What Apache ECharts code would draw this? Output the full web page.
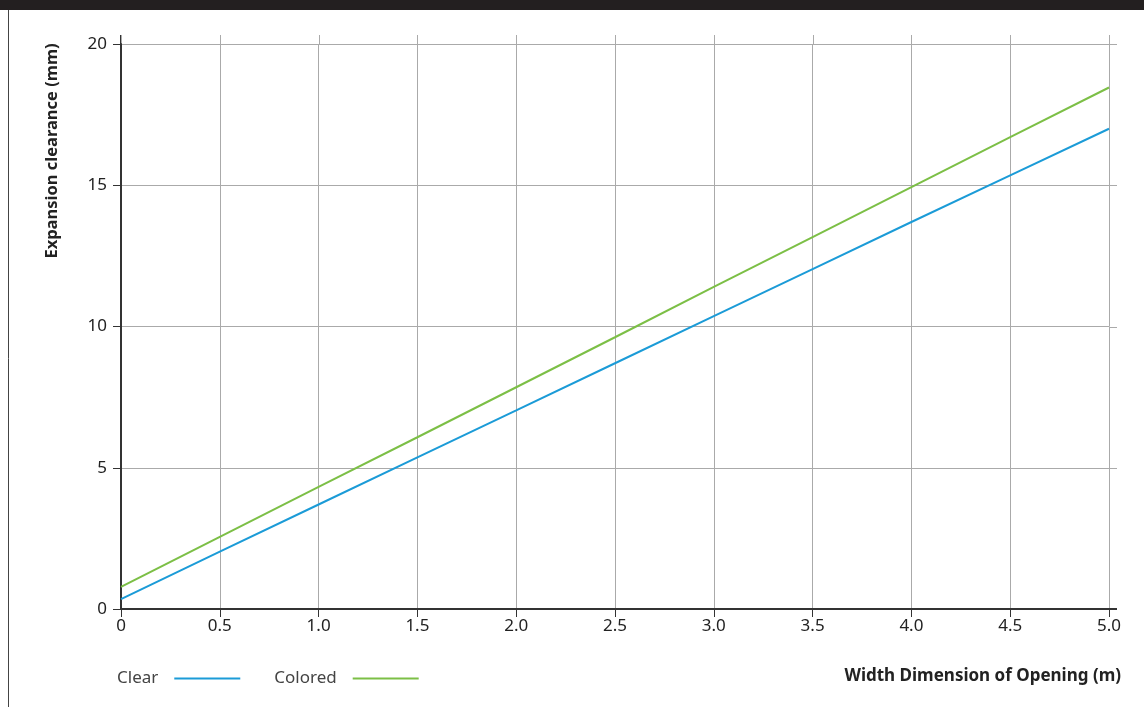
<!DOCTYPE html>
<html><head><meta charset="utf-8">
<script src="https://cdn.jsdelivr.net/npm/echarts@6/dist/echarts.min.js"></script>
<style>html,body{margin:0;padding:0;background:#fff}#c{width:1144px;height:707px}</style>
</head><body><div id="c"></div>
<script>
const xValues = [0, 0.5, 1.0, 1.5, 2.0, 2.5, 3.0, 3.5, 4.0, 4.5, 5.0];
const clearValues = [0.35, 2.03, 3.7, 5.37, 7.03, 8.7, 10.37, 12.03, 13.7, 15.35, 17.0];
const coloredValues = [0.78, 2.55, 4.32, 6.08, 7.85, 9.62, 11.4, 13.16, 14.93, 16.7, 18.46];
const seriesNames = ['Clear', 'Colored'];
const xTitle = 'Width Dimension of Opening (m)';
const yTitle = 'Expansion clearance (mm)';

const FONT = 'Noto Sans';
const chart = echarts.init(document.getElementById('c'), null, {renderer: 'canvas'});
const pairs = v => xValues.map((x, i) => [x, v[i]]);
chart.setOption({
  animation: false,
  textStyle: {fontFamily: FONT},
  grid: {left: 121, right: 35, top: 44, bottom: 98},
  legend: {
    left: 112, top: 665, align: 'right', itemWidth: 66, itemHeight: 2, itemGap: 34,
    icon: 'rect',
    textStyle: {fontFamily: FONT, fontSize: 17, color: '#444', padding: [0, 11, 0, 0]},
    data: seriesNames
  },
  xAxis: {
    type: 'value', min: 0, max: 5, interval: 0.5,
    axisLine: {lineStyle: {color: '#333', width: 2}},
    axisTick: {show: true, length: 8, lineStyle: {color: '#333', width: 1}},
    axisLabel: {color: '#222', fontSize: 17, margin: 9,
      formatter: v => v === 0 ? '0' : v.toFixed(1)},
    splitLine: {show: true, lineStyle: {color: '#aaa', width: 1}}
  },
  yAxis: {
    type: 'value', min: 0, max: 20, interval: 5,
    axisLine: {show: true, lineStyle: {color: '#333', width: 2}},
    axisTick: {show: true, length: 8, lineStyle: {color: '#333', width: 1}},
    axisLabel: {color: '#222', fontSize: 17, margin: 14},
    splitLine: {show: true, lineStyle: {color: '#aaa', width: 1}}
  },
  series: [
    {name: seriesNames[0], type: 'line', data: pairs(clearValues), showSymbol: false,
      lineStyle: {color: '#1b9bd7', width: 2}, itemStyle: {color: '#1b9bd7'}},
    {name: seriesNames[1], type: 'line', data: pairs(coloredValues), showSymbol: false,
      lineStyle: {color: '#7cbf46', width: 2}, itemStyle: {color: '#7cbf46'}}
  ]
});

const p0 = chart.convertToPixel({gridIndex: 0}, [0, 0]);
const p1 = chart.convertToPixel({gridIndex: 0}, [5, 20]);
const ext = 8, extTop = 9;
const gfx = [
  {type: 'rect', shape: {x: 0, y: 0, width: 1144, height: 10}, style: {fill: '#231f20'}, z: 100},
  {type: 'line', shape: {x1: 8.5, y1: 10, x2: 8.5, y2: 707}, style: {stroke: '#444', lineWidth: 1}},
  {type: 'line', shape: {x1: p1[0], y1: p0[1], x2: p1[0] + ext, y2: p0[1]}, style: {stroke: '#333', lineWidth: 2}},
  {type: 'line', shape: {x1: p0[0], y1: p1[1], x2: p0[0], y2: p1[1] - extTop}, style: {stroke: '#333', lineWidth: 2}},
  {type: 'text', right: 23, top: 668,
    style: {text: xTitle, font: 'bold 17px "' + FONT + '"', fill: '#222'}},
  {type: 'text', x: 52, y: 151, rotation: Math.PI / 2, originX: 0, originY: 0,
    style: {text: yTitle, font: 'bold 16.5px "' + FONT + '"', fill: '#222', align: 'center', verticalAlign: 'middle'}}
];
xValues.forEach(x => {
  const px = chart.convertToPixel({gridIndex: 0}, [x, 20]);
  gfx.push({type: 'line', shape: {x1: Math.round(px[0]) + 0.5, y1: px[1], x2: Math.round(px[0]) + 0.5, y2: px[1] - extTop}, style: {stroke: '#aaa', lineWidth: 1}});
});
[5, 10, 15, 20].forEach(y => {
  const py = chart.convertToPixel({gridIndex: 0}, [5, y]);
  gfx.push({type: 'line', shape: {x1: py[0], y1: Math.round(py[1]) + 0.5, x2: py[0] + ext, y2: Math.round(py[1]) + 0.5}, style: {stroke: '#aaa', lineWidth: 1}});
});
chart.setOption({graphic: gfx});
</script></body></html>
